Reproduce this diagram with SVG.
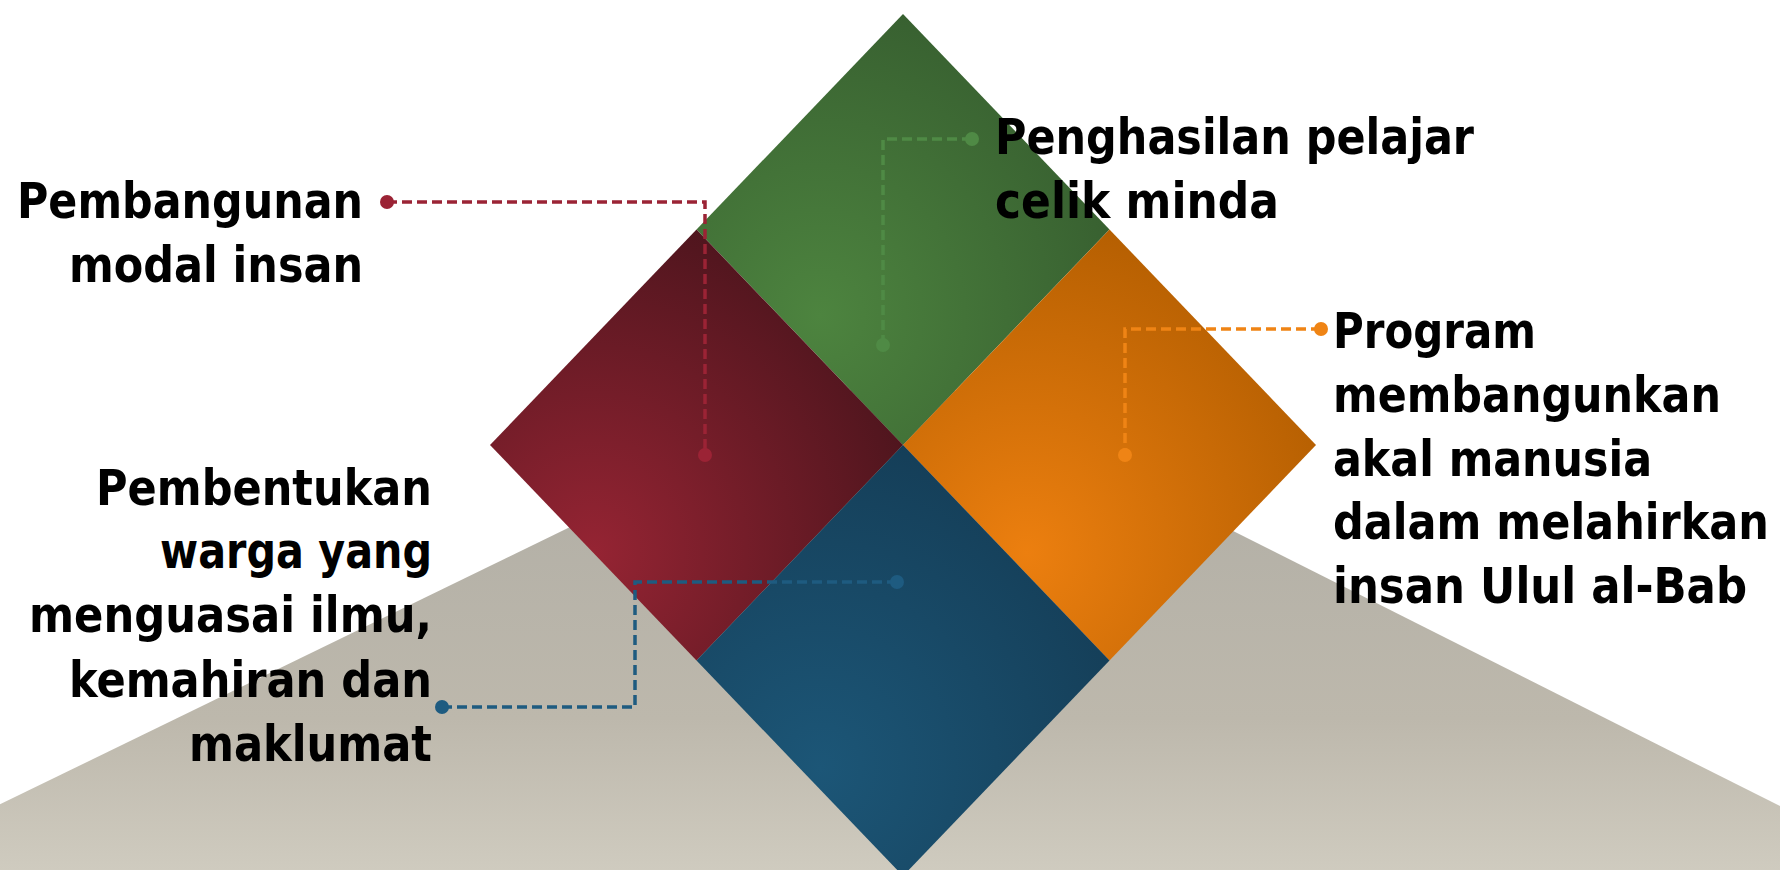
<svg xmlns="http://www.w3.org/2000/svg" width="1780" height="870" viewBox="0 0 1780 870">
<defs>
<linearGradient id="gGray" x1="0" y1="0" x2="0" y2="1">
<stop offset="0" stop-color="#adaba3"/>
<stop offset="0.7" stop-color="#bdb8ac"/>
<stop offset="1" stop-color="#cfcbbf"/>
</linearGradient>
<radialGradient id="gRed" cx="0.25" cy="0.75" r="0.85">
<stop offset="0" stop-color="#952433"/>
<stop offset="1" stop-color="#4a141c"/>
</radialGradient>
<radialGradient id="gGreen" cx="0.3" cy="0.7" r="0.8">
<stop offset="0" stop-color="#4d843f"/>
<stop offset="1" stop-color="#365d2f"/>
</radialGradient>
<radialGradient id="gOrange" cx="0.3" cy="0.75" r="0.85">
<stop offset="0" stop-color="#ec7f0f"/>
<stop offset="1" stop-color="#b05c00"/>
</radialGradient>
<radialGradient id="gBlue" cx="0.3" cy="0.75" r="0.85">
<stop offset="0" stop-color="#1c5677"/>
<stop offset="1" stop-color="#143c55"/>
</radialGradient>
<style>
.lbl{font-family:"DejaVu Sans Condensed","DejaVu Sans","Liberation Sans",sans-serif;font-stretch:condensed;font-weight:bold;font-size:50px;fill:#000}
.con{fill:none;stroke-width:3.5;stroke-dasharray:10 5}
</style>
</defs>
<rect width="1780" height="870" fill="#ffffff"/>
<polygon id="base" points="903,365 -135,870 1907,870" fill="url(#gGray)"/>
<g id="node-green"><polygon points="903,14 1109.5,229.5 903,445 696.5,229.5" fill="url(#gGreen)"/></g>
<g id="node-red"><polygon points="696.5,229.5 903,445 696.5,660.5 490,445" fill="url(#gRed)"/></g>
<g id="node-orange"><polygon points="1109.5,229.5 1316,445 1109.5,660.5 903,445" fill="url(#gOrange)"/></g>
<g id="node-blue"><polygon points="903,445 1109.5,660.5 903,876 696.5,660.5" fill="url(#gBlue)"/></g>
<g id="connectors">
<path class="con" stroke="#9b2335" d="M387,202 H705 V455"/>
<circle cx="387" cy="202" r="7" fill="#9b2335"/><circle cx="705" cy="455" r="7" fill="#9b2335"/>
<path class="con" stroke="#4f8a45" d="M972,139 H883 V345"/>
<circle cx="972" cy="139" r="7" fill="#4f8a45"/><circle cx="883" cy="345" r="7" fill="#4f8a45"/>
<path class="con" stroke="#ef8415" d="M1321,329 H1125 V455"/>
<circle cx="1321" cy="329" r="7" fill="#ef8415"/><circle cx="1125" cy="455" r="7" fill="#ef8415"/>
<path class="con" stroke="#1e5b80" d="M442,707 H635 V582 H897"/>
<circle cx="442" cy="707" r="7" fill="#1e5b80"/><circle cx="897" cy="582" r="7" fill="#1e5b80"/>
</g>
<g id="label-red">
<text class="lbl" x="17" y="218" textLength="346" lengthAdjust="spacingAndGlyphs">Pembangunan</text>
<text class="lbl" x="69" y="282" textLength="294" lengthAdjust="spacingAndGlyphs">modal insan</text>
</g>
<g id="label-green">
<text class="lbl" x="995" y="154" textLength="479" lengthAdjust="spacingAndGlyphs">Penghasilan pelajar</text>
<text class="lbl" x="995" y="218" textLength="284" lengthAdjust="spacingAndGlyphs">celik minda</text>
</g>
<g id="label-orange">
<text class="lbl" x="1333" y="348" textLength="203" lengthAdjust="spacingAndGlyphs">Program</text>
<text class="lbl" x="1333" y="412" textLength="388" lengthAdjust="spacingAndGlyphs">membangunkan</text>
<text class="lbl" x="1333" y="476" textLength="319" lengthAdjust="spacingAndGlyphs">akal manusia</text>
<text class="lbl" x="1333" y="539" textLength="436" lengthAdjust="spacingAndGlyphs">dalam melahirkan</text>
<text class="lbl" x="1333" y="603" textLength="414" lengthAdjust="spacingAndGlyphs">insan Ulul al-Bab</text>
</g>
<g id="label-blue">
<text class="lbl" x="96" y="505" textLength="336" lengthAdjust="spacingAndGlyphs">Pembentukan</text>
<text class="lbl" x="160" y="568" textLength="272" lengthAdjust="spacingAndGlyphs">warga yang</text>
<text class="lbl" x="29" y="632" textLength="403" lengthAdjust="spacingAndGlyphs">menguasai ilmu,</text>
<text class="lbl" x="69" y="697" textLength="363" lengthAdjust="spacingAndGlyphs">kemahiran dan</text>
<text class="lbl" x="189" y="761" textLength="243" lengthAdjust="spacingAndGlyphs">maklumat</text>
</g>
</svg>
